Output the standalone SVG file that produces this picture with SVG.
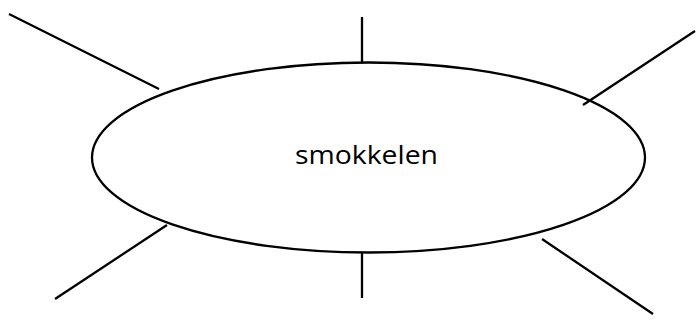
<svg xmlns="http://www.w3.org/2000/svg" width="699" height="327" viewBox="0 0 699 327">
<style>
.ln{stroke:#000;stroke-width:2.3;fill:none}
.lbl{font-family:"Open Sans","Liberation Sans",sans-serif;font-size:26px;fill:#000}
</style>
<rect width="699" height="327" fill="#fff"/>
<g id="connectors">
<line class="ln" x1="9" y1="14" x2="159" y2="89"/>
<line class="ln" x1="362" y1="17" x2="362" y2="63"/>
<line class="ln" x1="695" y1="31" x2="583" y2="105"/>
<line class="ln" x1="167" y1="225" x2="55" y2="299"/>
<line class="ln" x1="362" y1="253" x2="362" y2="298"/>
<line class="ln" x1="542" y1="239" x2="653" y2="314"/>
</g>
<g id="center">
<ellipse class="ln" cx="368.5" cy="157.5" rx="276.5" ry="95"/>
<text class="lbl" x="366.5" y="164" text-anchor="middle" textLength="143" lengthAdjust="spacingAndGlyphs">smokkelen</text>
</g>
</svg>
